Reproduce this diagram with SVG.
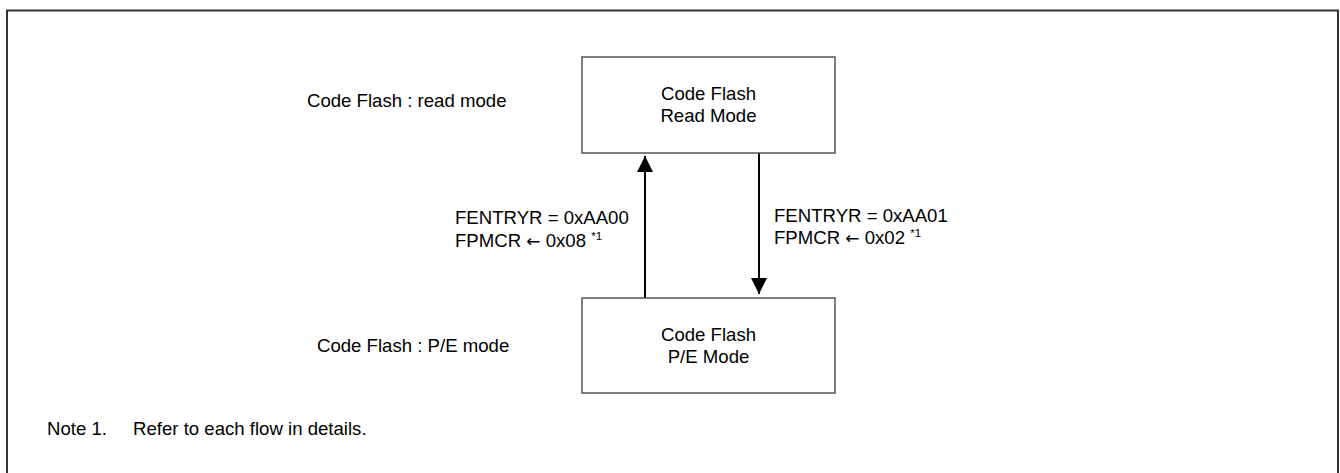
<svg xmlns="http://www.w3.org/2000/svg" width="1340" height="473" viewBox="0 0 1340 473">
<defs>
<style>
text{font-family:"Liberation Sans",Arial,sans-serif;font-size:18.6px;fill:#000}
.c{text-anchor:middle}
.box{fill:#fff;stroke:#555;stroke-width:1.5}
.frame{fill:none;stroke:#333;stroke-width:2}
.ln{stroke:#000;stroke-width:2;fill:none}
.sup{font-size:11.5px}
.arr{font-family:"DejaVu Sans",sans-serif;font-size:17px}
</style>
<marker id="ah" viewBox="0 0 16 16" refX="16" refY="8" markerWidth="16" markerHeight="16" markerUnits="userSpaceOnUse" orient="auto">
<path d="M0,0 L16,8 L0,16 Z" fill="#000"/>
</marker>
</defs>
<rect class="frame" x="7" y="10.5" width="1331" height="475"/>
<g id="connectors">
<line class="ln" x1="645" y1="298" x2="645" y2="156" marker-end="url(#ah)"/>
<line class="ln" x1="759" y1="153" x2="759" y2="294" marker-end="url(#ah)"/>
</g>
<g id="node-read">
<rect class="box" x="582" y="57" width="253" height="96"/>
<text class="c" x="708.5" y="100">Code Flash</text>
<text class="c" x="708.5" y="122">Read Mode</text>
</g>
<g id="node-pe">
<rect class="box" x="582" y="298" width="253" height="95"/>
<text class="c" x="708.5" y="341">Code Flash</text>
<text class="c" x="708.5" y="363">P/E Mode</text>
</g>
<g id="labels">
<text x="307" y="107">Code Flash : read mode</text>
<text x="317" y="352">Code Flash : P/E mode</text>
<text x="455" y="224">FENTRYR = 0xAA00</text>
<text x="455" y="247">FPMCR <tspan class="arr">←</tspan> 0x08 <tspan class="sup" dy="-7">*1</tspan></text>
<text x="774" y="222">FENTRYR = 0xAA01</text>
<text x="774" y="244">FPMCR <tspan class="arr">←</tspan> 0x02 <tspan class="sup" dy="-7">*1</tspan></text>
<text x="47" y="435">Note 1.</text>
<text x="133" y="435">Refer to each flow in details.</text>
</g>
</svg>
